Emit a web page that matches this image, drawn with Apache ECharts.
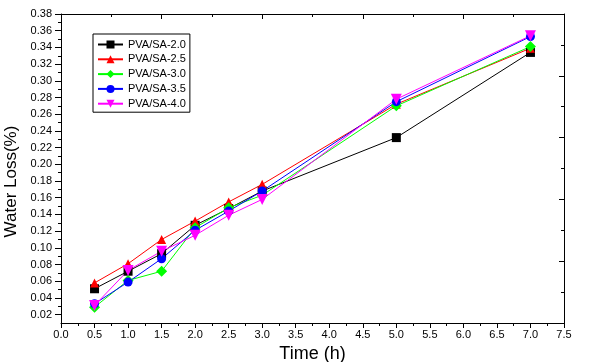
<!DOCTYPE html>
<html>
<head>
<meta charset="utf-8">
<script src="https://cdn.jsdelivr.net/npm/echarts@6/dist/echarts.min.js"></script>
<style>
html,body{margin:0;padding:0;background:#fff;}
#c{width:616px;height:362px;}
</style>
</head>
<body>
<div id="c"></div>
<script>
var times = [0.5, 1.0, 1.5, 2.0, 2.5, 3.0, 5.0, 7.0];
var seriesNames = ['PVA/SA-2.0', 'PVA/SA-2.5', 'PVA/SA-3.0', 'PVA/SA-3.5', 'PVA/SA-4.0'];
var pva20 = [0.051, 0.072, 0.093, 0.127, 0.147, 0.168, 0.232, 0.334];
var pva25 = [0.058, 0.081, 0.110, 0.132, 0.155, 0.176, 0.272, 0.339];
var pva30 = [0.029, 0.061, 0.072, 0.124, 0.148, 0.163, 0.270, 0.341];
var pva35 = [0.033, 0.059, 0.087, 0.121, 0.144, 0.168, 0.275, 0.353];
var pva40 = [0.031, 0.073, 0.096, 0.115, 0.139, 0.158, 0.278, 0.354];
var yTickLabels = [0.02, 0.04, 0.06, 0.08, 0.10, 0.12, 0.14, 0.16, 0.18, 0.20, 0.22, 0.24, 0.26, 0.28, 0.30, 0.32, 0.34, 0.36, 0.38];
var yMinorTicks = [0.03, 0.05, 0.07, 0.09, 0.11, 0.13, 0.15, 0.17, 0.19, 0.21, 0.23, 0.25, 0.27, 0.29, 0.31, 0.33, 0.35, 0.37];

var FONT = '"Liberation Sans", Arial, sans-serif';
var colors = ['#000000', '#ff0000', '#00ff00', '#0000ff', '#ff00ff'];
var symbols = ['rect', 'triangle', 'diamond', 'circle', 'path://M0,0 L10,0 L5,10 Z'];
var sizes = [9, 9, 11, 9, 11];
var allData = [pva20, pva25, pva30, pva35, pva40];

function pairs(arr) {
  return times.map(function (t, i) { return [t, arr[i]]; });
}

var series = seriesNames.map(function (name, k) {
  return {
    name: name,
    type: 'line',
    xAxisIndex: 0,
    yAxisIndex: 0,
    data: pairs(allData[k]),
    symbol: symbols[k],
    symbolSize: sizes[k],
    showAllSymbol: true,
    lineStyle: { color: colors[k], width: 1 },
    itemStyle: { color: colors[k] },
    emphasis: { disabled: true },
    animation: false
  };
});

var chart = echarts.init(document.getElementById('c'), null, { renderer: 'canvas' });
chart.setOption({
  animation: false,
  backgroundColor: '#ffffff',
  textStyle: { fontFamily: FONT },
  grid: { left: 61, right: 52, top: 14, bottom: 39, containLabel: false, outerBoundsMode: 'none' },
  legend: {
    orient: 'vertical',
    left: 93,
    top: 34,
    padding: [5, 4, 3, 4],
    itemGap: 3.8,
    itemWidth: 25,
    itemHeight: 10,
    borderColor: '#000',
    borderWidth: 1,
    borderRadius: 0,
    textStyle: { fontSize: 11, color: '#000', fontFamily: FONT },
    data: seriesNames
  },
  xAxis: [
    {
      type: 'value', position: 'bottom', min: 0, max: 7.5, interval: 0.5,
      axisLine: { show: true, onZero: false, lineStyle: { color: '#000', width: 1 } },
      axisTick: { show: true, inside: false, length: 5, lineStyle: { color: '#000' } },
      minorTick: { show: true, splitNumber: 2, length: 3, lineStyle: { color: '#000' } },
      axisLabel: { fontSize: 11, color: '#000', margin: 6, fontFamily: FONT,
        formatter: function (v) { return v.toFixed(1); } },
      splitLine: { show: false },
      name: 'Time (h)', nameLocation: 'middle', nameGap: 17,
      nameTextStyle: { fontSize: 18, color: '#000', fontFamily: FONT }
    },
    {
      type: 'value', position: 'top', min: 0, max: 7.5, interval: 1.5,
      axisLine: { show: true, onZero: false, lineStyle: { color: '#000', width: 1 } },
      axisTick: { show: true, inside: true, length: 5, lineStyle: { color: '#000' } },
      minorTick: { show: true, splitNumber: 2, length: 3, lineStyle: { color: '#000' } },
      axisLabel: { show: false },
      splitLine: { show: false }
    }
  ],
  yAxis: [
    {
      type: 'value', position: 'left', min: 0.01, max: 0.38,
      axisLine: { show: true, onZero: false, lineStyle: { color: '#000', width: 1 } },
      axisTick: { show: true, inside: false, length: 6, customValues: yTickLabels, lineStyle: { color: '#000' } },
      axisLabel: { fontSize: 11, color: '#000', margin: 9, fontFamily: FONT, customValues: yTickLabels,
        formatter: function (v) { return v.toFixed(2); } },
      splitLine: { show: false },
      name: 'Water Loss(%)', nameLocation: 'middle', nameGap: 38,
      nameTextStyle: { fontSize: 17, color: '#000', fontFamily: FONT, padding: [0, 26, 0, 0] }
    },
    {
      type: 'value', position: 'left', min: 0.01, max: 0.38,
      axisLine: { show: false },
      axisTick: { show: true, inside: false, length: 3, customValues: yMinorTicks, lineStyle: { color: '#000' } },
      axisLabel: { show: false },
      splitLine: { show: false }
    },
    {
      type: 'value', position: 'right', min: 0, max: 5, interval: 1,
      axisLine: { show: true, onZero: false, lineStyle: { color: '#000', width: 1 } },
      axisTick: { show: true, inside: true, length: 5, lineStyle: { color: '#000' } },
      minorTick: { show: true, splitNumber: 2, length: 3, lineStyle: { color: '#000' } },
      axisLabel: { show: false },
      splitLine: { show: false }
    }
  ],
  series: series
});
</script>
</body>
</html>
